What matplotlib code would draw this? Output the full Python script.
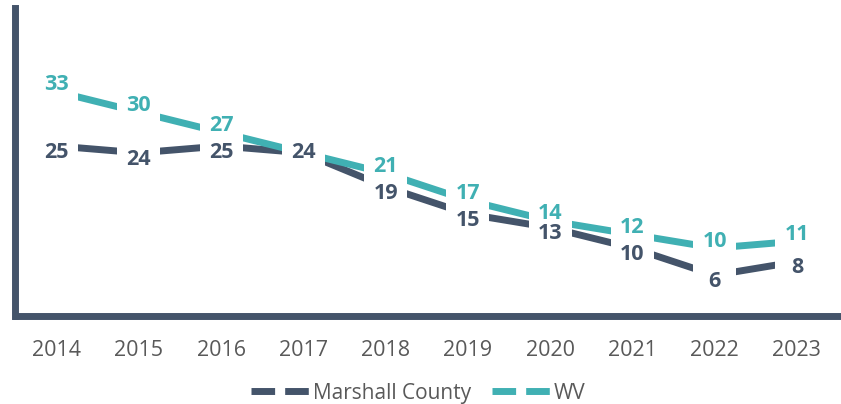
import matplotlib
matplotlib.use("Agg")
import matplotlib.pyplot as plt
from matplotlib.lines import Line2D
from matplotlib.patches import Rectangle
from matplotlib.transforms import ScaledTranslation

years = ["2014", "2015", "2016", "2017", "2018", "2019", "2020", "2021", "2022", "2023"]
marshall = [25, 24, 25, 24, 19, 15, 13, 10, 6, 8]
wv = [33, 30, 27, 24, 21, 17, 14, 12, 10, 11]
series_names = ["Marshall County", "WV"]

DARK = "#44546A"
TEAL = "#40B0B3"
GRAY = "#595959"

plt.rcParams['font.family'] = ['Open Sans', 'DejaVu Sans']

DPI = 100
fig = plt.figure(figsize=(8.41, 4.04), dpi=DPI)
ax = fig.add_axes([15.5 / 841, (404 - 316) / 404, 822.5 / 841, 308 / 404])

x = list(range(len(years)))
ax.plot(x, marshall, color=DARK, lw=5, zorder=2, solid_capstyle='butt')
ax.plot(x, wv, color=TEAL, lw=5, zorder=3, solid_capstyle='butt')

WV_OFF = 5.0    # points
MC_OFF = -4.5   # points
BOX_W, BOX_H = 0.43, 0.27  # inches (white label background around each point)


def label_bg(xi, v):
    tr = fig.dpi_scale_trans + ScaledTranslation(xi, v, ax.transData)
    ax.add_patch(Rectangle((-BOX_W / 2, -BOX_H / 2), BOX_W, BOX_H,
                           transform=tr, fc="white", ec="none", zorder=4,
                           clip_on=False))


for xi, v in zip(x, wv):
    label_bg(xi, v)
for xi, v in zip(x, marshall):
    label_bg(xi, v)

for xi, v, m in zip(x, wv, marshall):
    if v == m:
        continue
    ax.annotate(str(v), (xi, v), xytext=(0, WV_OFF), textcoords="offset points",
                ha="center", va="center", fontsize=15.5, fontweight="bold",
                color=TEAL, zorder=5)
for xi, v, w in zip(x, marshall, wv):
    off = MC_OFF if v != w else 0
    ax.annotate(str(v), (xi, v), xytext=(0, off), textcoords="offset points",
                ha="center", va="center", fontsize=15.5, fontweight="bold",
                color=DARK, zorder=6)

ax.set_xlim(-0.5, len(years) - 0.5)
ax.set_ylim(0, 45.3)
ax.set_xticks(x)
ax.set_xticklabels(years, fontsize=15.5, color=GRAY)
ax.set_yticks([])
ax.tick_params(axis='x', length=0, pad=17.5)
for side in ["top", "right"]:
    ax.spines[side].set_visible(False)
for side in ["left", "bottom"]:
    ax.spines[side].set_color(DARK)
    ax.spines[side].set_linewidth(5)
    ax.spines[side].set_capstyle('projecting')

handles = [Line2D([], [], color=DARK, lw=5, dashes=(3.4, 1.45)),
           Line2D([], [], color=TEAL, lw=5, dashes=(3.4, 1.45))]
fig.legend(handles, series_names, loc="center", bbox_to_anchor=(0.4976, 0.027),
           ncol=2, frameon=False, fontsize=15, labelcolor=GRAY,
           handlelength=2.85, handletextpad=0.12, columnspacing=1.0,
           borderaxespad=0, borderpad=0)

fig.savefig("out.png", dpi=DPI)
